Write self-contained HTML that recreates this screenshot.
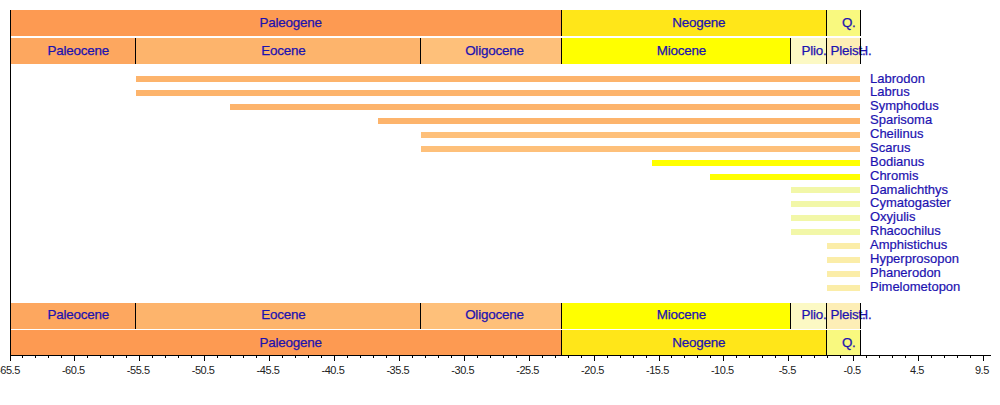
<!DOCTYPE html>
<html><head><meta charset="utf-8"><style>
html,body{margin:0;padding:0;background:#fff;width:1000px;height:405px;overflow:hidden;position:relative}
.r{position:absolute}
.vl{position:absolute;width:1px;background:#000}
.t{position:absolute;width:200px;height:20px;line-height:20px;text-align:center;font-family:"Liberation Sans",sans-serif;font-size:13.4px;color:#1c12b0;white-space:nowrap;letter-spacing:-0.2px;text-indent:0.2px;-webkit-text-stroke:0.25px #1c12b0}
.sp{position:absolute;height:20px;line-height:20px;font-family:"Liberation Sans",sans-serif;font-size:13px;color:#1c12b0;white-space:nowrap;-webkit-text-stroke:0.2px #1c12b0}
.ax{position:absolute;width:100px;height:20px;line-height:20px;text-align:center;font-family:"Liberation Sans",sans-serif;font-size:11px;color:#222;white-space:nowrap;letter-spacing:-0.45px;text-indent:0.45px}
</style></head><body>
<div class="r" style="left:10.00px;top:10px;width:551.00px;height:26px;background:#FD9A52"></div>
<div class="r" style="left:561.00px;top:10px;width:265.00px;height:26px;background:#FFE619"></div>
<div class="r" style="left:826.00px;top:10px;width:34.00px;height:26px;background:#F9F97F"></div>
<div class="r" style="left:10.00px;top:38px;width:125.00px;height:26px;background:#FDA75F"></div>
<div class="r" style="left:135.00px;top:38px;width:285.00px;height:26px;background:#FDB46C"></div>
<div class="r" style="left:420.00px;top:38px;width:141.00px;height:26px;background:#FEC07A"></div>
<div class="r" style="left:561.00px;top:38px;width:229.00px;height:26px;background:#FFFF00"></div>
<div class="r" style="left:790.00px;top:38px;width:36.00px;height:26px;background:#FCF9C4"></div>
<div class="r" style="left:826.00px;top:38px;width:34.00px;height:26px;background:#FDEEB6"></div>
<div class="r" style="left:860.00px;top:38px;width:0.00px;height:26px;background:#FEF2E0"></div>
<div class="t" style="left:190.50px;top:13.0px">Paleogene</div>
<div class="t" style="left:598.70px;top:13.0px">Neogene</div>
<div class="t" style="left:748.70px;top:13.0px">Q.</div>
<div class="t" style="left:-21.90px;top:41.0px">Paleocene</div>
<div class="t" style="left:183.30px;top:41.0px">Eocene</div>
<div class="t" style="left:394.30px;top:41.0px">Oligocene</div>
<div class="t" style="left:581.25px;top:41.0px">Miocene</div>
<div class="t" style="left:714.00px;top:41.0px">Plio.</div>
<div class="t" style="left:748.00px;top:41.0px">Pleist.</div>
<div class="t" style="left:765.00px;top:41.0px">H.</div>
<div class="vl" style="left:561px;top:10px;height:26px"></div>
<div class="vl" style="left:826px;top:10px;height:26px"></div>
<div class="vl" style="left:860px;top:10px;height:26px"></div>
<div class="vl" style="left:135px;top:38px;height:26px"></div>
<div class="vl" style="left:420px;top:38px;height:26px"></div>
<div class="vl" style="left:561px;top:38px;height:26px"></div>
<div class="vl" style="left:790px;top:38px;height:26px"></div>
<div class="vl" style="left:826px;top:38px;height:26px"></div>
<div class="vl" style="left:860px;top:38px;height:26px"></div>
<div class="vl" style="left:860px;top:38px;height:26px"></div>
<div class="r" style="left:10.00px;top:303px;width:125.00px;height:26px;background:#FDA75F"></div>
<div class="r" style="left:135.00px;top:303px;width:285.00px;height:26px;background:#FDB46C"></div>
<div class="r" style="left:420.00px;top:303px;width:141.00px;height:26px;background:#FEC07A"></div>
<div class="r" style="left:561.00px;top:303px;width:229.00px;height:26px;background:#FFFF00"></div>
<div class="r" style="left:790.00px;top:303px;width:36.00px;height:26px;background:#FCF9C4"></div>
<div class="r" style="left:826.00px;top:303px;width:34.00px;height:26px;background:#FDEEB6"></div>
<div class="r" style="left:860.00px;top:303px;width:0.00px;height:26px;background:#FEF2E0"></div>
<div class="r" style="left:10.00px;top:330px;width:551.00px;height:25px;background:#FD9A52"></div>
<div class="r" style="left:561.00px;top:330px;width:265.00px;height:25px;background:#FFE619"></div>
<div class="r" style="left:826.00px;top:330px;width:34.00px;height:25px;background:#F9F97F"></div>
<div class="t" style="left:-21.90px;top:305.0px">Paleocene</div>
<div class="t" style="left:183.30px;top:305.0px">Eocene</div>
<div class="t" style="left:394.30px;top:305.0px">Oligocene</div>
<div class="t" style="left:581.25px;top:305.0px">Miocene</div>
<div class="t" style="left:714.00px;top:305.0px">Plio.</div>
<div class="t" style="left:748.00px;top:305.0px">Pleist.</div>
<div class="t" style="left:765.00px;top:305.0px">H.</div>
<div class="t" style="left:190.50px;top:332.5px">Paleogene</div>
<div class="t" style="left:598.70px;top:332.5px">Neogene</div>
<div class="t" style="left:748.70px;top:332.5px">Q.</div>
<div class="vl" style="left:135px;top:303px;height:26px"></div>
<div class="vl" style="left:420px;top:303px;height:26px"></div>
<div class="vl" style="left:561px;top:303px;height:26px"></div>
<div class="vl" style="left:790px;top:303px;height:26px"></div>
<div class="vl" style="left:826px;top:303px;height:26px"></div>
<div class="vl" style="left:860px;top:303px;height:26px"></div>
<div class="vl" style="left:860px;top:303px;height:26px"></div>
<div class="vl" style="left:561px;top:330px;height:25px"></div>
<div class="vl" style="left:826px;top:330px;height:25px"></div>
<div class="vl" style="left:860px;top:330px;height:25px"></div>
<div class="r" style="left:136.00px;top:76px;width:724.00px;height:6px;background:#FDB46C"></div>
<div class="sp" style="left:870px;top:68.60px">Labrodon</div>
<div class="r" style="left:136.00px;top:90px;width:724.00px;height:6px;background:#FDB46C"></div>
<div class="sp" style="left:870px;top:82.47px">Labrus</div>
<div class="r" style="left:230.00px;top:104px;width:630.00px;height:6px;background:#FDB46C"></div>
<div class="sp" style="left:870px;top:96.34px">Symphodus</div>
<div class="r" style="left:378.00px;top:118px;width:482.00px;height:6px;background:#FDB46C"></div>
<div class="sp" style="left:870px;top:110.21px">Sparisoma</div>
<div class="r" style="left:421.00px;top:132px;width:439.00px;height:6px;background:#FEC07A"></div>
<div class="sp" style="left:870px;top:124.08px">Cheilinus</div>
<div class="r" style="left:421.00px;top:146px;width:439.00px;height:6px;background:#FEC07A"></div>
<div class="sp" style="left:870px;top:137.95px">Scarus</div>
<div class="r" style="left:652.00px;top:160px;width:208.00px;height:6px;background:#FFFF00"></div>
<div class="sp" style="left:870px;top:151.82px">Bodianus</div>
<div class="r" style="left:710.00px;top:174px;width:150.00px;height:6px;background:#FFFF00"></div>
<div class="sp" style="left:870px;top:165.69px">Chromis</div>
<div class="r" style="left:791.00px;top:187px;width:69.00px;height:6px;background:#F2F7A8"></div>
<div class="sp" style="left:870px;top:179.56px">Damalichthys</div>
<div class="r" style="left:791.00px;top:201px;width:69.00px;height:6px;background:#F2F7A8"></div>
<div class="sp" style="left:870px;top:193.43px">Cymatogaster</div>
<div class="r" style="left:791.00px;top:215px;width:69.00px;height:6px;background:#F2F7A8"></div>
<div class="sp" style="left:870px;top:207.30px">Oxyjulis</div>
<div class="r" style="left:791.00px;top:229px;width:69.00px;height:6px;background:#F2F7A8"></div>
<div class="sp" style="left:870px;top:221.17px">Rhacochilus</div>
<div class="r" style="left:827.00px;top:243px;width:33.00px;height:6px;background:#FBEDA8"></div>
<div class="sp" style="left:870px;top:235.04px">Amphistichus</div>
<div class="r" style="left:827.00px;top:257px;width:33.00px;height:6px;background:#FBEDA8"></div>
<div class="sp" style="left:870px;top:248.91px">Hyperprosopon</div>
<div class="r" style="left:827.00px;top:271px;width:33.00px;height:6px;background:#FBEDA8"></div>
<div class="sp" style="left:870px;top:262.78px">Phanerodon</div>
<div class="r" style="left:827.00px;top:285px;width:33.00px;height:6px;background:#FBEDA8"></div>
<div class="sp" style="left:870px;top:276.65px">Pimelometopon</div>
<div class="r" style="left:10px;top:10px;width:1px;height:351px;background:#000"></div>
<div class="r" style="left:10px;top:355px;width:981px;height:1px;background:#000"></div>
<div class="r" style="left:9.50px;top:355px;width:1px;height:6px;background:#000"></div>
<div class="ax" style="left:-41.80px;top:360px">-65.5</div>
<div class="r" style="left:22.48px;top:355px;width:1px;height:3px;background:#000"></div>
<div class="r" style="left:35.46px;top:355px;width:1px;height:3px;background:#000"></div>
<div class="r" style="left:48.44px;top:355px;width:1px;height:3px;background:#000"></div>
<div class="r" style="left:61.42px;top:355px;width:1px;height:3px;background:#000"></div>
<div class="r" style="left:74.40px;top:355px;width:1px;height:6px;background:#000"></div>
<div class="ax" style="left:23.10px;top:360px">-60.5</div>
<div class="r" style="left:87.38px;top:355px;width:1px;height:3px;background:#000"></div>
<div class="r" style="left:100.36px;top:355px;width:1px;height:3px;background:#000"></div>
<div class="r" style="left:113.34px;top:355px;width:1px;height:3px;background:#000"></div>
<div class="r" style="left:126.32px;top:355px;width:1px;height:3px;background:#000"></div>
<div class="r" style="left:139.30px;top:355px;width:1px;height:6px;background:#000"></div>
<div class="ax" style="left:88.00px;top:360px">-55.5</div>
<div class="r" style="left:152.28px;top:355px;width:1px;height:3px;background:#000"></div>
<div class="r" style="left:165.26px;top:355px;width:1px;height:3px;background:#000"></div>
<div class="r" style="left:178.24px;top:355px;width:1px;height:3px;background:#000"></div>
<div class="r" style="left:191.22px;top:355px;width:1px;height:3px;background:#000"></div>
<div class="r" style="left:204.20px;top:355px;width:1px;height:6px;background:#000"></div>
<div class="ax" style="left:152.90px;top:360px">-50.5</div>
<div class="r" style="left:217.18px;top:355px;width:1px;height:3px;background:#000"></div>
<div class="r" style="left:230.16px;top:355px;width:1px;height:3px;background:#000"></div>
<div class="r" style="left:243.14px;top:355px;width:1px;height:3px;background:#000"></div>
<div class="r" style="left:256.12px;top:355px;width:1px;height:3px;background:#000"></div>
<div class="r" style="left:269.10px;top:355px;width:1px;height:6px;background:#000"></div>
<div class="ax" style="left:217.80px;top:360px">-45.5</div>
<div class="r" style="left:282.08px;top:355px;width:1px;height:3px;background:#000"></div>
<div class="r" style="left:295.06px;top:355px;width:1px;height:3px;background:#000"></div>
<div class="r" style="left:308.04px;top:355px;width:1px;height:3px;background:#000"></div>
<div class="r" style="left:321.02px;top:355px;width:1px;height:3px;background:#000"></div>
<div class="r" style="left:334.00px;top:355px;width:1px;height:6px;background:#000"></div>
<div class="ax" style="left:282.70px;top:360px">-40.5</div>
<div class="r" style="left:346.98px;top:355px;width:1px;height:3px;background:#000"></div>
<div class="r" style="left:359.96px;top:355px;width:1px;height:3px;background:#000"></div>
<div class="r" style="left:372.94px;top:355px;width:1px;height:3px;background:#000"></div>
<div class="r" style="left:385.92px;top:355px;width:1px;height:3px;background:#000"></div>
<div class="r" style="left:398.90px;top:355px;width:1px;height:6px;background:#000"></div>
<div class="ax" style="left:347.60px;top:360px">-35.5</div>
<div class="r" style="left:411.88px;top:355px;width:1px;height:3px;background:#000"></div>
<div class="r" style="left:424.86px;top:355px;width:1px;height:3px;background:#000"></div>
<div class="r" style="left:437.84px;top:355px;width:1px;height:3px;background:#000"></div>
<div class="r" style="left:450.82px;top:355px;width:1px;height:3px;background:#000"></div>
<div class="r" style="left:463.80px;top:355px;width:1px;height:6px;background:#000"></div>
<div class="ax" style="left:412.50px;top:360px">-30.5</div>
<div class="r" style="left:476.78px;top:355px;width:1px;height:3px;background:#000"></div>
<div class="r" style="left:489.76px;top:355px;width:1px;height:3px;background:#000"></div>
<div class="r" style="left:502.74px;top:355px;width:1px;height:3px;background:#000"></div>
<div class="r" style="left:515.72px;top:355px;width:1px;height:3px;background:#000"></div>
<div class="r" style="left:528.70px;top:355px;width:1px;height:6px;background:#000"></div>
<div class="ax" style="left:477.40px;top:360px">-25.5</div>
<div class="r" style="left:541.68px;top:355px;width:1px;height:3px;background:#000"></div>
<div class="r" style="left:554.66px;top:355px;width:1px;height:3px;background:#000"></div>
<div class="r" style="left:567.64px;top:355px;width:1px;height:3px;background:#000"></div>
<div class="r" style="left:580.62px;top:355px;width:1px;height:3px;background:#000"></div>
<div class="r" style="left:593.60px;top:355px;width:1px;height:6px;background:#000"></div>
<div class="ax" style="left:542.30px;top:360px">-20.5</div>
<div class="r" style="left:606.58px;top:355px;width:1px;height:3px;background:#000"></div>
<div class="r" style="left:619.56px;top:355px;width:1px;height:3px;background:#000"></div>
<div class="r" style="left:632.54px;top:355px;width:1px;height:3px;background:#000"></div>
<div class="r" style="left:645.52px;top:355px;width:1px;height:3px;background:#000"></div>
<div class="r" style="left:658.50px;top:355px;width:1px;height:6px;background:#000"></div>
<div class="ax" style="left:607.20px;top:360px">-15.5</div>
<div class="r" style="left:671.48px;top:355px;width:1px;height:3px;background:#000"></div>
<div class="r" style="left:684.46px;top:355px;width:1px;height:3px;background:#000"></div>
<div class="r" style="left:697.44px;top:355px;width:1px;height:3px;background:#000"></div>
<div class="r" style="left:710.42px;top:355px;width:1px;height:3px;background:#000"></div>
<div class="r" style="left:723.40px;top:355px;width:1px;height:6px;background:#000"></div>
<div class="ax" style="left:672.10px;top:360px">-10.5</div>
<div class="r" style="left:736.38px;top:355px;width:1px;height:3px;background:#000"></div>
<div class="r" style="left:749.36px;top:355px;width:1px;height:3px;background:#000"></div>
<div class="r" style="left:762.34px;top:355px;width:1px;height:3px;background:#000"></div>
<div class="r" style="left:775.32px;top:355px;width:1px;height:3px;background:#000"></div>
<div class="r" style="left:788.30px;top:355px;width:1px;height:6px;background:#000"></div>
<div class="ax" style="left:737.00px;top:360px">-5.5</div>
<div class="r" style="left:801.28px;top:355px;width:1px;height:3px;background:#000"></div>
<div class="r" style="left:814.26px;top:355px;width:1px;height:3px;background:#000"></div>
<div class="r" style="left:827.24px;top:355px;width:1px;height:3px;background:#000"></div>
<div class="r" style="left:840.22px;top:355px;width:1px;height:3px;background:#000"></div>
<div class="r" style="left:853.20px;top:355px;width:1px;height:6px;background:#000"></div>
<div class="ax" style="left:801.90px;top:360px">-0.5</div>
<div class="r" style="left:866.18px;top:355px;width:1px;height:3px;background:#000"></div>
<div class="r" style="left:879.16px;top:355px;width:1px;height:3px;background:#000"></div>
<div class="r" style="left:892.14px;top:355px;width:1px;height:3px;background:#000"></div>
<div class="r" style="left:905.12px;top:355px;width:1px;height:3px;background:#000"></div>
<div class="r" style="left:918.10px;top:355px;width:1px;height:6px;background:#000"></div>
<div class="ax" style="left:866.80px;top:360px">4.5</div>
<div class="r" style="left:931.08px;top:355px;width:1px;height:3px;background:#000"></div>
<div class="r" style="left:944.06px;top:355px;width:1px;height:3px;background:#000"></div>
<div class="r" style="left:957.04px;top:355px;width:1px;height:3px;background:#000"></div>
<div class="r" style="left:970.02px;top:355px;width:1px;height:3px;background:#000"></div>
<div class="r" style="left:983.00px;top:355px;width:1px;height:6px;background:#000"></div>
<div class="ax" style="left:931.70px;top:360px">9.5</div>
</body></html>
